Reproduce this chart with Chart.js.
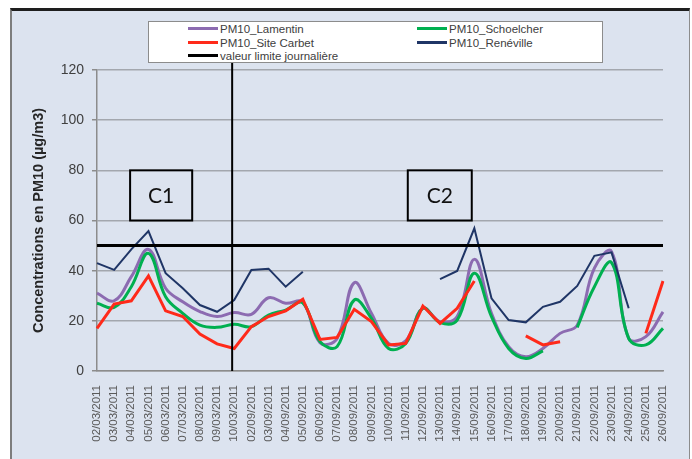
<!DOCTYPE html>
<html>
<head>
<meta charset="utf-8">
<script src="https://cdn.jsdelivr.net/npm/chart.js@4.4.0/dist/chart.umd.min.js"></script>
<style>
  html, body { margin: 0; padding: 0; background: #fff; }
  #wrap { position: relative; width: 692px; height: 459px; overflow: hidden; }
  #frame { position: absolute; left: 10px; top: 8px; width: 677px; height: 470px; background: #dce3ef;
           border-top: 3px solid #1e1e1e; border-left: 2px solid #7d7d7d; border-right: 1px solid #8c8c8c; }
  #chart { position: absolute; left: 0; top: 0; }
  #legend { position: absolute; left: 148px; top: 21px; width: 453px; height: 40px; background: #fff;
            border: 1px solid #8c8c8c; font: 11.5px "Liberation Sans", Arial, sans-serif; color: #404040; }
  .item { position: absolute; display: flex; align-items: center; height: 13px; white-space: nowrap; }
  .swatch { width: 30px; height: 3px; margin-right: 2px; }
</style>
</head>
<body>
<div id="wrap">
  <div id="frame"></div>
  <canvas id="chart" width="692" height="459"></canvas>
  <div id="legend"></div>
</div>
<script>
const FONT = '"Liberation Sans", Arial, sans-serif';

const dates = [
  '02/03/2011', '03/03/2011', '04/03/2011', '05/03/2011', '06/03/2011', '07/03/2011',
  '08/03/2011', '09/03/2011', '10/03/2011',
  '02/09/2011', '03/09/2011', '04/09/2011', '05/09/2011', '06/09/2011', '07/09/2011',
  '08/09/2011', '09/09/2011', '10/09/2011', '11/09/2011', '12/09/2011', '13/09/2011',
  '14/09/2011', '15/09/2011', '16/09/2011', '17/09/2011', '18/09/2011', '19/09/2011',
  '20/09/2011', '21/09/2011', '22/09/2011', '23/09/2011', '24/09/2011', '25/09/2011',
  '26/09/2011'
];

const lamentin = [31, 28, 37.6, 48.5, 33, 27.6, 23.7, 21.7, 23.3, 22.6, 29.2, 27, 27.4, 11.3, 13, 35.2, 23,
  11, 12, 25, 19.7, 21.7, 44.5, 23, 9.7, 5.7, 9, 15, 18.3, 41, 47.6, 13, 13.7, 23.6];
const schoelcher = [27, 25.4, 33.6, 46.9, 29.6, 23, 18.3, 17.4, 18.6, 17.7, 22.3, 24.3, 27.2, 11.7, 9.7, 28.3, 21,
  9, 11, 25, 19.3, 20.3, 39, 21.7, 9, 5, 8, null, 17.4, 33.6, 43.2, 13, 10.4, 17];
const carbet = [17, 26.7, 28, 37.9, 24, 21.7, 14.7, 10.8, 9, 17.7, 21.7, 24, 28.6, 12.6, 13.4, 24.6, 19.7,
  10.4, 11, 25.9, 19, 25, 35.9, null, null, 14, 10.4, 11.7, null, null, null, null, 15, 35.9];
const reneville = [43, 40.3, 48.5, 55.8, 39, 33, 26.3, 23.6, 28.3, 40.3, 40.8, 33.6, 39.6,
  null, null, null, null, null, null, null,
  36.6, 39.9, 56.9, 29, 20.3, 19.4, 25.6, 27.6, 33.9, 45.9, 47.3, 25, null, null];
const limitValue = 50;
const limit = dates.map(() => limitValue);

const yTicks = { min: 0, max: 120, step: 20 };

// divider between the two campaigns and the C1 / C2 labels (in category index / value units)
const SPLIT_AT = 7.88;
const periodBoxes = [
  { text: 'C1', from: 1.93, to: 5.55, low: 60, high: 80 },
  { text: 'C2', from: 18.12, to: 21.85, low: 60, high: 80 }
];

const series = [
  { label: 'PM10_Lamentin', data: lamentin, color: '#8c6bb1', width: 3, tension: 0.4, order: 4 },
  { label: 'PM10_Schoelcher', data: schoelcher, color: '#00b050', width: 3, tension: 0.4, order: 3 },
  { label: 'PM10_Site Carbet', data: carbet, color: '#ff2a1a', width: 3, tension: 0, order: 2 },
  { label: 'PM10_Renéville', data: reneville, color: '#1f3566', width: 2, tension: 0, order: 1 },
  { label: 'valeur limite journalière', data: limit, color: '#000000', width: 3, tension: 0, order: 0 }
];

// legend boxes: two columns, three rows
const legendSlots = [[39, 0], [268, 0], [39, 14], [268, 14], [39, 27]];
document.getElementById('legend').innerHTML = series.map((s, i) =>
  `<div class="item" style="left:${legendSlots[i][0]}px;top:${legendSlots[i][1]}px">
     <span class="swatch" style="background:${s.color}"></span>${s.label}</div>`).join('');

const periodMarks = {
  id: 'periodMarks',
  afterDatasetsDraw(chart) {
    const { ctx, chartArea, scales: { x, y } } = chart;
    ctx.save();
    ctx.strokeStyle = '#000';
    ctx.lineWidth = 2;
    const sx = x.getPixelForValue(SPLIT_AT);
    ctx.beginPath();
    ctx.moveTo(sx, chartArea.top - 8);
    ctx.lineTo(sx, chartArea.bottom);
    ctx.stroke();

    ctx.font = '21px Lato, "Open Sans", sans-serif';
    ctx.fillStyle = '#111';
    ctx.textAlign = 'center';
    ctx.textBaseline = 'middle';
    periodBoxes.forEach(b => {
      const l = x.getPixelForValue(b.from), r = x.getPixelForValue(b.to);
      const t = y.getPixelForValue(b.high), btm = y.getPixelForValue(b.low);
      ctx.fillStyle = '#dce3ef';
      ctx.fillRect(l, t, r - l, btm - t);
      ctx.strokeRect(l, t, r - l, btm - t);
      ctx.fillStyle = '#111';
      ctx.fillText(b.text, (l + r) / 2, (t + btm) / 2 + 1);
    });
    ctx.restore();
  }
};

new Chart(document.getElementById('chart'), {
  type: 'line',
  data: {
    labels: dates,
    datasets: series.map(s => ({
      label: s.label,
      data: s.data,
      borderColor: s.color,
      backgroundColor: s.color,
      borderWidth: s.width,
      tension: s.tension,
      pointRadius: 0,
      spanGaps: false,
      order: s.order
    }))
  },
  options: {
    responsive: false,
    animation: false,
    devicePixelRatio: 1,
    layout: { padding: { left: 20, right: 29, top: 70, bottom: 0 } },
    plugins: { legend: { display: false }, tooltip: { enabled: false } },
    scales: {
      x: {
        grid: { display: false },
        border: { display: true, color: '#8c8c8c', width: 1.5 },
        ticks: {
          autoSkip: false, maxRotation: 90, minRotation: 90, padding: 6,
          color: '#5a5a5a', font: { family: FONT, size: 11.5 }
        },
        afterFit: s => { s.height = 88; }
      },
      y: {
        min: yTicks.min, max: yTicks.max,
        ticks: { stepSize: yTicks.step, padding: 8, color: '#404040', font: { family: FONT, size: 14 } },
        grid: { color: '#a3a7ae', lineWidth: 1.5, tickLength: 5, tickColor: '#8c8c8c' },
        border: { color: '#8c8c8c', width: 1.5 },
        title: {
          display: true, text: 'Concentrations en PM10 (µg/m3)', color: '#262626',
          font: { family: FONT, size: 14.5, weight: 'bold' }, padding: { top: 10, bottom: 0 }
        },
        afterFit: s => { s.width = 77; }
      }
    }
  },
  plugins: [periodMarks]
});
</script>
</body>
</html>
